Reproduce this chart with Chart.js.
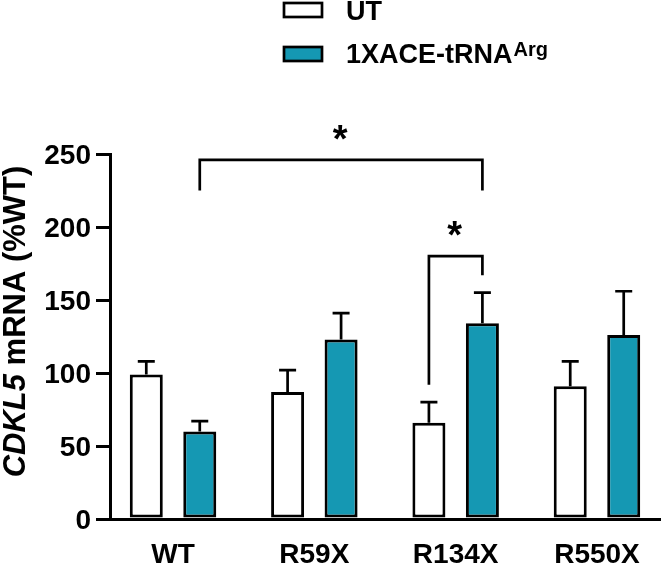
<!DOCTYPE html>
<html lang="en">
<head>
  <meta charset="UTF-8">
  <title>CDKL5 mRNA</title>
  <script src="https://cdn.jsdelivr.net/npm/chart.js"></script>
  <style>
    html, body { margin: 0; padding: 0; background: #fff; }
    #wrap { position: relative; width: 661px; height: 568px; }
  </style>
</head>
<body>
  <div id="wrap"><canvas id="barChart"></canvas></div>

  <script>
    // values
    const categories = ['WT', 'R59X', 'R134X', 'R550X'];
    const utValues = [99, 87, 66, 91];
    const utErrors = [9, 15, 14, 17];
    const aceValues = [60, 123, 134, 126];
    const aceErrors = [7, 18, 21, 30];
    const yTicks = [0, 50, 100, 150, 200, 250];

    // significance brackets: [category, series] at each end, top and leg ends in %WT
    const brackets = [
      { from: [0, 1], to: [2, 1], top: 246, leftEnd: 225, rightEnd: 225, label: '*' },
      { from: [2, 0], to: [2, 1], top: 180, leftEnd: 92, rightEnd: 167, label: '*' }
    ];

    const TEAL = '#1598b3';
    const FONT = '"Liberation Sans", Arial, sans-serif';

    function boldText(ctx, text, x, y, size, align) {
      ctx.save();
      ctx.font = 'bold ' + size + 'px ' + FONT;
      ctx.textAlign = align;
      ctx.textBaseline = 'alphabetic';
      ctx.fillStyle = '#000';
      ctx.fillText(text, x, y);
      ctx.restore();
    }

    // error bars (upper only) drawn from each bar top
    const errorBars = {
      id: 'errorBars',
      afterDatasetsDraw(chart) {
        const ctx = chart.ctx;
        const y = chart.scales.y;
        ctx.save();
        ctx.strokeStyle = '#000';
        ctx.lineWidth = 2.7;
        chart.data.datasets.forEach((ds, d) => {
          chart.getDatasetMeta(d).data.forEach((bar, i) => {
            const top = y.getPixelForValue(ds.data[i].y + ds.errors[i]);
            ctx.beginPath();
            ctx.moveTo(bar.x, bar.y);
            ctx.lineTo(bar.x, top);
            ctx.moveTo(bar.x - 8.5, top);
            ctx.lineTo(bar.x + 8.5, top);
            ctx.stroke();
          });
        });
        ctx.restore();
      }
    };

    // brackets, stars, axis text and legend
    const annotations = {
      id: 'annotations',
      afterDraw(chart) {
        const ctx = chart.ctx;
        const xs = chart.scales.x;
        const ys = chart.scales.y;

        ctx.save();
        ctx.strokeStyle = '#000';
        ctx.lineWidth = 2.7;
        brackets.forEach(b => {
          const x1 = chart.getDatasetMeta(b.from[1]).data[b.from[0]].x;
          const x2 = chart.getDatasetMeta(b.to[1]).data[b.to[0]].x;
          const yt = ys.getPixelForValue(b.top);
          ctx.beginPath();
          ctx.moveTo(x1, ys.getPixelForValue(b.leftEnd));
          ctx.lineTo(x1, yt);
          ctx.lineTo(x2, yt);
          ctx.lineTo(x2, ys.getPixelForValue(b.rightEnd));
          ctx.stroke();
          boldText(ctx, b.label, (x1 + x2) / 2 - 1, yt - 8, 38, 'center');
        });
        ctx.restore();

        // y tick labels
        yTicks.forEach(v => {
          boldText(ctx, String(v), 91, ys.getPixelForValue(v) + 10, 28, 'right');
        });

        // category labels
        categories.forEach((c, i) => {
          boldText(ctx, c, xs.getPixelForValue(i), 563, 28, 'center');
        });

        // y axis title, CDKL5 in italics
        ctx.save();
        ctx.translate(25, 321.5);
        ctx.rotate(-Math.PI / 2);
        ctx.fillStyle = '#000';
        ctx.textBaseline = 'alphabetic';
        ctx.textAlign = 'left';
        const partA = 'CDKL5';
        const partB = ' mRNA (%WT)';
        ctx.font = 'italic bold 31px ' + FONT;
        const wA = ctx.measureText(partA).width;
        ctx.font = 'bold 31px ' + FONT;
        const wB = ctx.measureText(partB).width;
        const start = -(wA + wB) / 2;
        ctx.font = 'italic bold 31px ' + FONT;
        ctx.fillText(partA, start, 0);
        ctx.font = 'bold 31px ' + FONT;
        ctx.fillText(partB, start + wA, 0);
        ctx.restore();

        // legend
        ctx.save();
        ctx.lineWidth = 2.7;
        ctx.strokeStyle = '#000';
        const rows = [3, 47];
        chart.data.datasets.forEach((ds, d) => {
          ctx.fillStyle = ds.backgroundColor;
          ctx.fillRect(284, rows[d], 38, 14);
          ctx.strokeRect(284, rows[d], 38, 14);
        });
        ctx.restore();
        boldText(ctx, chart.data.datasets[0].label, 346, 20, 27, 'left');
        boldText(ctx, chart.data.datasets[1].label, 346, 63, 27, 'left');
        ctx.save();
        ctx.font = 'bold 27px ' + FONT;
        const wLab = ctx.measureText(chart.data.datasets[1].label).width;
        ctx.restore();
        boldText(ctx, 'Arg', 346 + wLab + 1, 56, 20, 'left');
      }
    };

    const ctx = document.getElementById('barChart').getContext('2d');
    const barChart = new Chart(ctx, {
      type: 'bar',
      data: {
        datasets: [
          {
            label: 'UT',
            data: utValues.map((v, i) => ({ x: i, y: v })),
            errors: utErrors,
            backgroundColor: '#ffffff',
            borderColor: '#000',
            borderWidth: 3,
            borderSkipped: false
          },
          {
            label: '1XACE-tRNA',
            data: aceValues.map((v, i) => ({ x: i, y: v })),
            errors: aceErrors,
            backgroundColor: TEAL,
            borderColor: '#000',
            borderWidth: 3,
            borderSkipped: false
          }
        ]
      },
      options: {
        responsive: true,
        maintainAspectRatio: false,
        animation: false,
        categoryPercentage: 0.757,
        barPercentage: 0.617,
        layout: { padding: { top: 154, right: 1, left: 0, bottom: 0 } },
        plugins: {
          legend: { display: false },
          tooltip: { enabled: false }
        },
        scales: {
          x: {
            type: 'linear',
            min: -0.446,
            max: 3.446,
            offset: false,
            afterBuildTicks: scale => {
              scale.ticks = categories.map((c, i) => ({ value: i }));
            },
            afterFit: scale => { scale.height = 49; },
            ticks: { display: false },
            grid: { display: false },
            border: { color: '#000', width: 3 }
          },
          y: {
            min: 0,
            max: 250,
            afterBuildTicks: scale => {
              scale.ticks = yTicks.map(v => ({ value: v }));
            },
            afterFit: scale => { scale.width = 110; },
            ticks: { display: false },
            grid: {
              drawOnChartArea: false,
              drawTicks: true,
              tickLength: 14,
              color: '#000',
              lineWidth: 3
            },
            border: { color: '#000', width: 3 }
          }
        }
      },
      plugins: [errorBars, annotations]
    });
  </script>
</body>
</html>
